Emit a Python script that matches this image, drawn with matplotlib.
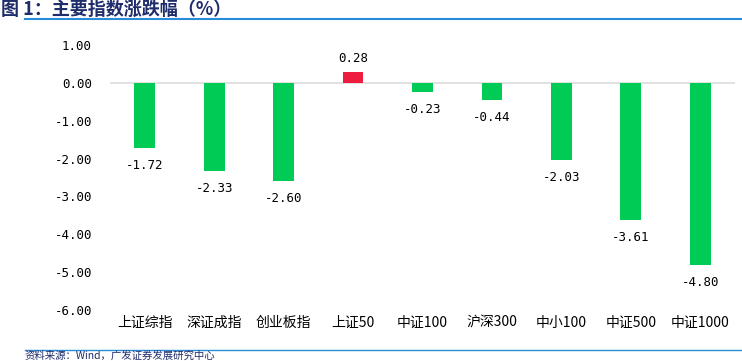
import matplotlib
matplotlib.use("Agg")
import matplotlib.pyplot as plt
from matplotlib.lines import Line2D

plt.rcParams['font.family'] = ['Noto Sans CJK SC', 'DejaVu Sans']
plt.rcParams['axes.unicode_minus'] = False

categories = ["上证综指", "深证成指", "创业板指", "上证50", "中证100", "沪深300", "中小100", "中证500", "中证1000"]
values = [-1.72, -2.33, -2.60, 0.28, -0.23, -0.44, -2.03, -3.61, -4.80]
yticks = [1.0, 0.0, -1.0, -2.0, -3.0, -4.0, -5.0, -6.0]

green = "#00CC55"
red = "#EE1C3F"
num_font = ['DejaVu Sans Mono']

fig = plt.figure(figsize=(7.42, 3.61), dpi=100)
ax = fig.add_axes([110/742, 1 - 310/361, 625/742, 265/361])

x = list(range(len(categories)))
colors = [red if v >= 0 else green for v in values]
ax.bar(x, values, width=0.30, color=colors, zorder=3)
ax.axhline(0, color="#DDDDDD", lw=1.2, zorder=2)

for xi, v in zip(x, values):
    if v >= 0:
        ax.annotate(f"{v:.2f}", (xi, v), xytext=(0, 5), textcoords="offset points",
                    ha="center", va="bottom", fontsize=9, family=num_font)
    else:
        ax.annotate(f"{v:.2f}", (xi, v), xytext=(0, -8), textcoords="offset points",
                    ha="center", va="top", fontsize=9, family=num_font)

ax.set_ylim(-6.0, 1.0)
ax.set_xlim(-0.5, len(categories) - 0.5)
ax.set_yticks(yticks)
ax.set_yticklabels([f"{t:.2f}" for t in yticks], fontsize=9, family=num_font)
ax.set_xticks(x)
ax.set_xticklabels(categories, fontsize=10)
ax.tick_params(length=0, pad=13, axis='y')
ax.tick_params(length=0, pad=4, axis='x')
for s in ax.spines.values():
    s.set_visible(False)

fig.text(0.002, 1 - 9/361, "图 1：主要指数涨跌幅（%）", fontsize=13, fontweight="bold",
         color="#1F2D6B", va="center", ha="left")
fig.add_artist(Line2D([25/742, 1], [1 - 19/361, 1 - 19/361], color="#2A8BD6", lw=1.5))
fig.add_artist(Line2D([25/742, 1], [1 - 350/361, 1 - 350/361], color="#2A8BD6", lw=1.0))
fig.text(25/742, 1 - 360.5/361, "资料来源：Wind，广发证券发展研究中心", fontsize=7.5,
         color="#1F2D6B", va="bottom", ha="left")

fig.savefig("out.png", dpi=100)
